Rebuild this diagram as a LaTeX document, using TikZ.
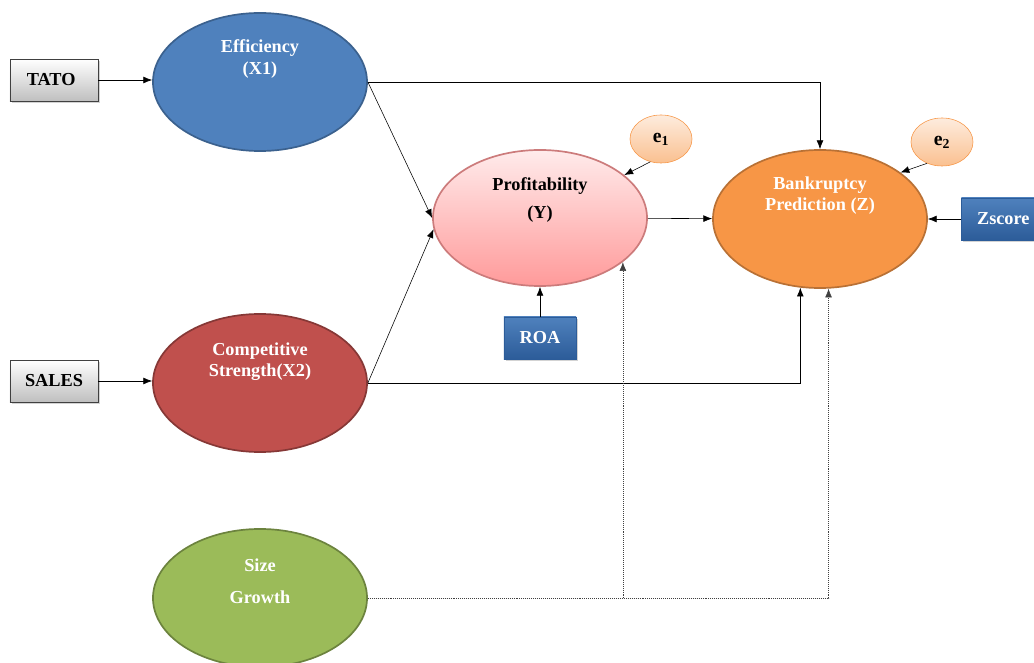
\documentclass[tikz,border=0pt]{standalone}
\usepackage{fontspec}
\setmainfont{Liberation Serif}
\usepackage{tikz}
\usetikzlibrary{arrows.meta,positioning,shapes.geometric,shadows}
\definecolor{effblue}{HTML}{4F81BD}
\definecolor{compred}{HTML}{C0504D}
\definecolor{sizegreen}{HTML}{9BBB59}
\definecolor{bankorange}{HTML}{F79646}
\definecolor{profpink}{HTML}{FF9A9A}
\definecolor{errpeach}{HTML}{FAC090}
\definecolor{boxblue}{HTML}{2C5C99}
\tikzset{
  flowarrow/.style={-{Latex[length=2.2mm,width=1.7mm]}, draw=black},
  dotarrow/.style={-{Latex[length=2.2mm,width=1.7mm]}, densely dotted, draw=black!75},
  latent/.style={ellipse, line width=1.2pt, inner sep=0pt,
    minimum width=5.35cm, minimum height=3.45cm},
  errnode/.style={ellipse, draw=bankorange, top color=errpeach!30, bottom color=errpeach,
    minimum width=1.55cm, minimum height=1.2cm, inner sep=0pt,
    font=\bfseries\fontsize{14}{16}\selectfont},
  indbox/.style={rectangle, draw=black!75, top color=white, bottom color=black!25,
    minimum width=2.2cm, minimum height=1.05cm, font=\bfseries\fontsize{13}{15}\selectfont,
    drop shadow={shadow xshift=1.2pt, shadow yshift=-1.2pt, opacity=0.35}},
  bluebox/.style={rectangle, draw=boxblue, top color=effblue, bottom color=boxblue,
    text=white, minimum height=1.05cm, font=\bfseries\fontsize{13}{15}\selectfont,
    drop shadow={shadow xshift=1.2pt, shadow yshift=-1.2pt, opacity=0.35}},
  wtxt/.style={align=center, text=white, font=\bfseries\fontsize{13}{15}\selectfont},
  btxt/.style={align=center, text=black, font=\bfseries\fontsize{13}{15}\selectfont}
}
\begin{document}
\begin{tikzpicture}[x=0.025cm, y=-0.025cm]
  \useasboundingbox (0,0) rectangle (1034,663);

  % latent variables
  \node[latent, draw=effblue!75!black, fill=effblue] (eff) at (260,82) {};
  \node[latent, draw=compred!70!black, fill=compred] (comp) at (260,383) {};
  \node[latent, draw=sizegreen!70!black, fill=sizegreen] (size) at (260,598) {};
  \node[latent, draw=profpink!80!black, top color=profpink!20, bottom color=profpink,
    minimum height=3.4cm] (prof) at (540,218) {};
  \node[latent, draw=bankorange!75!black, fill=bankorange] (bank) at (820,219) {};

  \node[wtxt] (efftxt) at (260,59) {Efficiency\\(X1)};
  \node[wtxt] (comptxt) at (260,362) {Competitive\\Strength(X2)};
  \node[wtxt] (sizetxt) at (260,581) {Size\\[8pt]Growth};
  \node[btxt] (proftxt) at (540,200) {Profitability\\[5pt](Y)};
  \node[wtxt] (banktxt) at (820,196) {Bankruptcy\\Prediction (Z)};

  % errors
  \node[errnode] (e1) at (661,139) {e\textsubscript{1}};
  \node[errnode] (e2) at (942,142) {e\textsubscript{2}};

  % indicators
  \node[indbox] (tato) at (54,80) {TATO\hspace*{4pt}};
  \node[indbox] (sales) at (54,381) {SALES};
  \node[bluebox, minimum width=1.8cm] (roa) at (540,338) {ROA};
  \node[bluebox, minimum width=2.1cm, anchor=west] (zs) at (961,219) {Zscore};

  \draw[flowarrow] (tato.east) -- (tato.east -| eff.west);
  \draw[flowarrow] (sales.east) -- (sales.east -| comp.west);
  \draw[flowarrow] (eff.east) -| (bank.north);
  \draw[flowarrow] (eff.east) -- (prof.180);
  \draw[flowarrow] (comp.east) -- (prof.186);
  \draw[flowarrow] (comp.east) -| (bank.254);
  \draw[flowarrow] (prof) -- (bank);
  \draw[flowarrow] (roa) -- (prof);
  \draw[flowarrow] (zs) -- (bank);
  \draw[flowarrow] (e1.245) -- (prof.27);
  \draw[flowarrow] (e2.235) -- (bank.30);
  \draw[dotarrow] (size.east) -| (bank.277);
  \draw[dotarrow] (size.east -| prof.332) -- (prof.332);
\end{tikzpicture}
\end{document}
